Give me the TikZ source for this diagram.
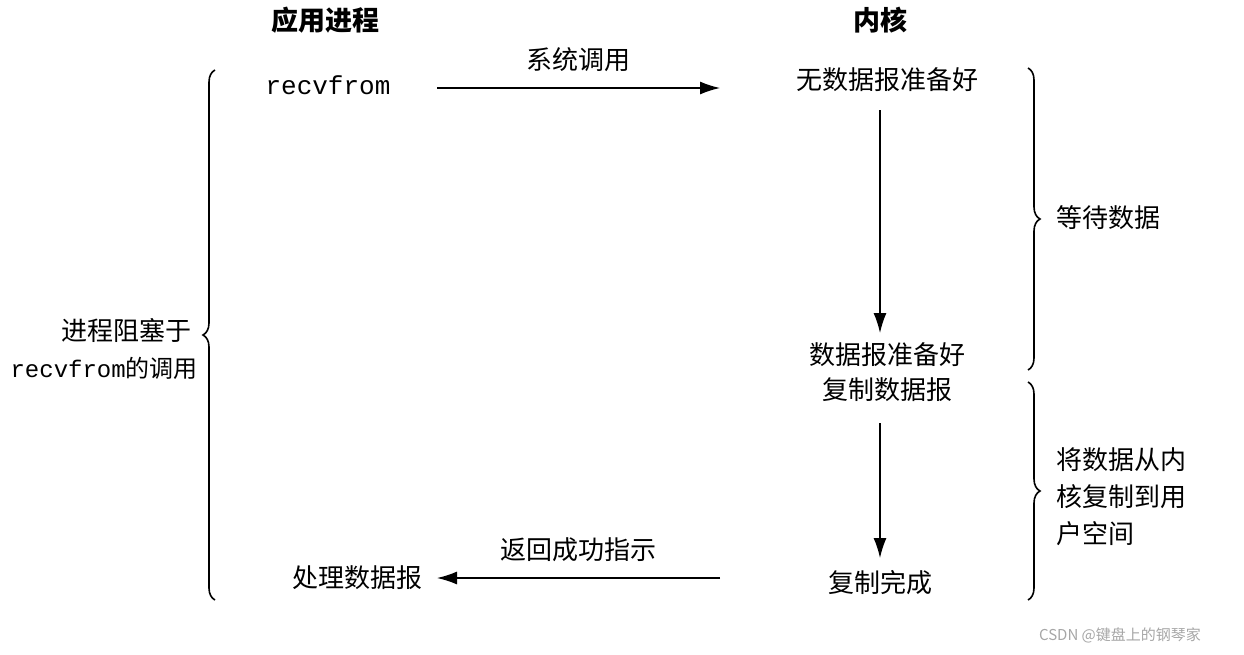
\documentclass[tikz,border=0pt]{standalone}
\usepackage{fontspec}
\setmainfont{Liberation Serif}
\newfontfamily\cjk{Noto Sans CJK SC}
\newfontfamily\monof{Liberation Mono}
\usetikzlibrary{decorations.pathreplacing,arrows.meta}
\begin{document}
\begin{tikzpicture}[x=1pt,y=-1pt,
  lbl/.style={font=\cjk\fontsize{26}{30}\selectfont,inner sep=0pt},
  hd/.style={font=\cjk\bfseries\fontsize{27}{30}\selectfont,inner sep=0pt},
  arr/.style={-{Latex[length=20pt,width=13pt]},line width=1.4pt},
  br/.style={decorate,decoration={brace,amplitude=12pt},line width=1.6pt}]
\useasboundingbox (0,0) rectangle (1244,654);
\node[hd] (h1) at (325,20) {应用进程};
\node[hd] (h2) at (880,20) {内核};
\node[inner sep=0pt,font=\monof\fontsize{26}{30}\selectfont] (rf) at (328,85) {recvfrom};
\node[lbl] (nd) at (887,80) {无数据报准备好};
\node[lbl] (dr) at (887,355) {数据报准备好};
\node[lbl] (cd) at (887,390) {复制数据报};
\node[lbl] (cf) at (880,583) {复制完成};
\node[lbl] (pd) at (357,578) {处理数据报};
\coordinate (a1) at (437,88); \coordinate (a2) at (720,88);
\draw[arr] (a1) -- node[lbl,above=16pt] (sc) {系统调用} (a2);
\coordinate (b1) at (720,578); \coordinate (b2) at (437,578);
\draw[arr] (b1) -- node[lbl,above=16pt] (rt) {返回成功指示} (b2);
\coordinate (v1) at (880,110); \coordinate (v2) at (880,333);
\draw[arr] (v1) -- (v2);
\coordinate (w1) at (880,423); \coordinate (w2) at (880,558);
\draw[arr] (w1) -- (w2);
\coordinate (L1) at (215,600); \coordinate (L2) at (215,70);
\draw[br] (L1) -- (L2);
\node[lbl,anchor=east] (lb1) at (192,330) {进程阻塞于};
\node[lbl,anchor=east,font=\cjk\fontsize{24}{28}\selectfont] (lb2) at (198,368) {{\monof recvfrom}的调用};
\coordinate (R1) at (1028,68); \coordinate (R2) at (1028,370);
\draw[br] (R1) -- (R2);
\node[lbl,anchor=west] (wd) at (1056,218) {等待数据};
\coordinate (S1) at (1028,382); \coordinate (S2) at (1028,600);
\draw[br] (S1) -- (S2);
\node[lbl,anchor=west,align=left,font=\cjk\fontsize{26}{37}\selectfont] (cp) at (1056,497) {将数据从内\\核复制到用\\户空间};
\node[inner sep=0pt,text=gray!70,font=\cjk\fontsize{15}{16}\selectfont] (wm) at (1120,635) {CSDN @键盘上的钢琴家};
\end{tikzpicture}
\end{document}
